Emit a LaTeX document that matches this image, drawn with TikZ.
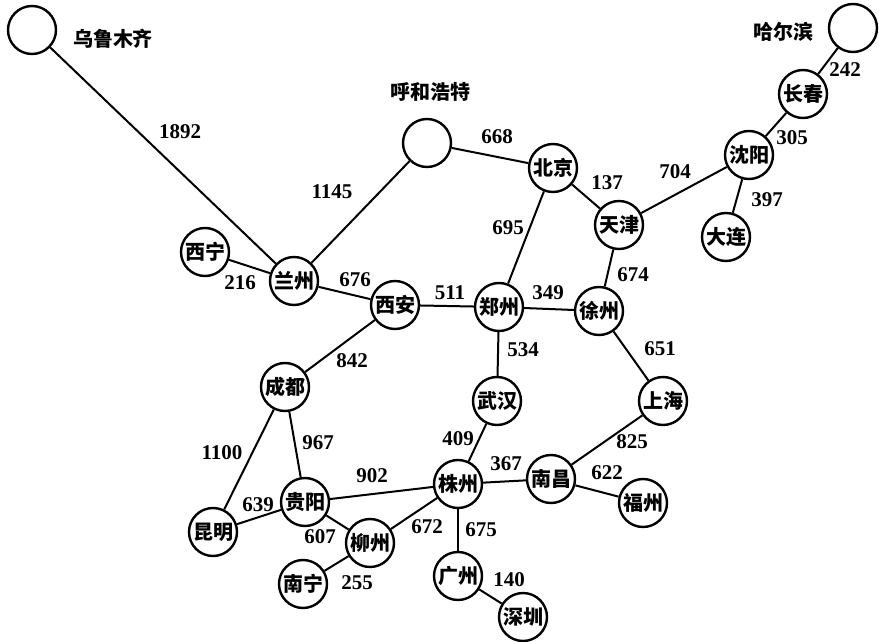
\documentclass[tikz,border=0pt]{standalone}
\usepackage{fontspec}
\setmainfont{Liberation Serif}
\newfontfamily\cjk{Noto Sans CJK SC}
\tikzset{
	city/.style={draw, circle, line width=1.2pt, minimum size=24pt, inner sep=0pt,
		font=\cjk\bfseries\fontsize{10}{10}\selectfont},
	cityname/.style={font=\cjk\bfseries\fontsize{10}{10}\selectfont},
	road/.style={black, line width=1pt},
	dist/.style={font=\bfseries\fontsize{10.5}{10.5}\selectfont, inner sep=1pt},
}

\begin{document}
\begin{tikzpicture}[x=0.5pt, y=-0.5pt]
			\useasboundingbox (0,0) rectangle (879,642);
			
			% Cities (empty circles carry their name beside them)
			\node[city] (wlmq) at (32,30) {};
			\node[cityname] (wlmqname) at (113,39) {乌鲁木齐};
			\node[city] (hrb) at (853,28) {};
			\node[cityname] (hrbname) at (783,32) {哈尔滨};
			\node[city] (hhht) at (427,143) {};
			\node[cityname] (hhhtname) at (430,92) {呼和浩特};
			
			\node[city] (bj) at (553,168) {北京};
			\node[city] (tj) at (619,225) {天津};
			\node[city] (sy) at (749,155) {沈阳};
			\node[city] (cc) at (803,94) {长春};
			\node[city] (dl) at (726,237) {大连};
			\node[city] (xn) at (205,252) {西宁};
			\node[city] (lz) at (294,281) {兰州};
			\node[city] (xa) at (395,305) {西安};
			\node[city] (zz) at (499,307) {郑州};
			\node[city] (xz) at (599,311) {徐州};
			\node[city] (wh) at (497,401) {武汉};
			\node[city] (sh) at (663,401) {上海};
			\node[city] (cd) at (285,387) {成都};
			\node[city] (gy) at (305,502) {贵阳};
			\node[city] (km) at (213,532) {昆明};
			\node[city] (zhz) at (458,484) {株州};
			\node[city] (nc) at (551,479) {南昌};
			\node[city] (fz) at (643,503) {福州};
			\node[city] (lzh) at (370,543) {柳州};
			\node[city] (nn) at (303,584) {南宁};
			\node[city] (gz) at (458,576) {广州};
			\node[city] (sz) at (523,617) {深圳};
			
			% Railway lines
			\draw[road] (wlmq) -- (lz);
			\draw[road] (xn) -- (lz);
			\draw[road] (lz) -- (hhht);
			\draw[road] (lz) -- (xa);
			\draw[road] (hhht) -- (bj);
			\draw[road] (bj) -- (zz);
			\draw[road] (bj) -- (tj);
			\draw[road] (tj) -- (sy);
			\draw[road] (sy) -- (cc);
			\draw[road] (cc) -- (hrb);
			\draw[road] (sy) -- (dl);
			\draw[road] (tj) -- (xz);
			\draw[road] (xa) -- (zz);
			\draw[road] (zz) -- (xz);
			\draw[road] (xa) -- (cd);
			\draw[road] (zz) -- (wh);
			\draw[road] (wh) -- (zhz);
			\draw[road] (xz) -- (sh);
			\draw[road] (sh) -- (nc);
			\draw[road] (nc) -- (zhz);
			\draw[road] (nc) -- (fz);
			\draw[road] (cd) -- (km);
			\draw[road] (cd) -- (gy);
			\draw[road] (gy) -- (km);
			\draw[road] (gy) -- (zhz);
			\draw[road] (gy) -- (lzh);
			\draw[road] (lzh) -- (zhz);
			\draw[road] (lzh) -- (nn);
			\draw[road] (zhz) -- (gz);
			\draw[road] (gz) -- (sz);
			
			% Distances
			\node[dist] (d1892) at (180,132) {1892};
			\node[dist] (d1145) at (332,192) {1145};
			\node[dist] (d668) at (497,137) {668};
			\node[dist] (d695) at (508,228) {695};
			\node[dist] (d137) at (607,183) {137};
			\node[dist] (d704) at (675,172) {704};
			\node[dist] (d305) at (792,138) {305};
			\node[dist] (d242) at (845,70) {242};
			\node[dist] (d397) at (767,200) {397};
			\node[dist] (d674) at (633,275) {674};
			\node[dist] (d216) at (240,283) {216};
			\node[dist] (d676) at (355,280) {676};
			\node[dist] (d511) at (450,293) {511};
			\node[dist] (d842) at (352,361) {842};
			\node[dist] (d349) at (548,293) {349};
			\node[dist] (d534) at (523,350) {534};
			\node[dist] (d651) at (660,349) {651};
			\node[dist] (d825) at (632,442) {825};
			\node[dist] (d409) at (458,439) {409};
			\node[dist] (d967) at (318,443) {967};
			\node[dist] (d1100) at (222,453) {1100};
			\node[dist] (d902) at (372,476) {902};
			\node[dist] (d639) at (258,505) {639};
			\node[dist] (d607) at (320,537) {607};
			\node[dist] (d672) at (427,527) {672};
			\node[dist] (d255) at (357,583) {255};
			\node[dist] (d367) at (506,464) {367};
			\node[dist] (d622) at (607,473) {622};
			\node[dist] (d675) at (481,530) {675};
			\node[dist] (d140) at (509,580) {140};
			
\end{tikzpicture}
\end{document}
